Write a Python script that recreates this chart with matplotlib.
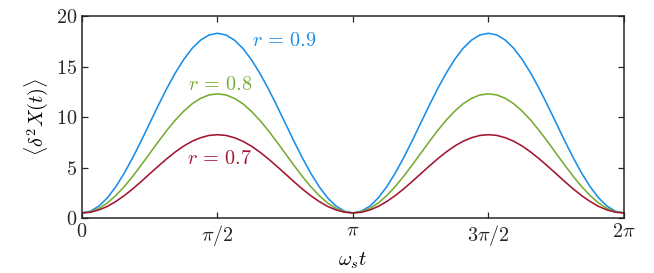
import numpy as np
import matplotlib
matplotlib.use("Agg")
import matplotlib.pyplot as plt

plt.rcParams["font.family"] = "serif"
plt.rcParams["font.serif"] = ["cmr10"]
plt.rcParams["mathtext.fontset"] = "cm"
plt.rcParams["axes.formatter.use_mathtext"] = True

hump_09 = [0.50, 0.67, 1.18, 2.00, 3.11, 4.46, 5.99, 7.66, 9.40, 11.14, 12.81, 14.34, 15.69, 16.80, 17.62, 18.13,
           18.30, 18.13, 17.62, 16.80, 15.69, 14.34, 12.81, 11.14, 9.40, 7.66, 5.99, 4.46, 3.11, 2.00, 1.18, 0.67]
hump_08 = [0.50, 0.61, 0.95, 1.49, 2.23, 3.12, 4.14, 5.25, 6.40, 7.55, 8.66, 9.68, 10.57, 11.31, 11.85, 12.19,
           12.30, 12.19, 11.85, 11.31, 10.57, 9.68, 8.66, 7.55, 6.40, 5.25, 4.14, 3.12, 2.23, 1.49, 0.95, 0.61]
hump_07 = [0.50, 0.57, 0.80, 1.15, 1.64, 2.22, 2.89, 3.62, 4.38, 5.13, 5.86, 6.53, 7.12, 7.60, 7.95, 8.18,
           8.25, 8.18, 7.95, 7.60, 7.12, 6.53, 5.86, 5.13, 4.38, 3.62, 2.89, 2.22, 1.64, 1.15, 0.80, 0.57]
var_09 = hump_09 + hump_09 + [0.50]
var_08 = hump_08 + hump_08 + [0.50]
var_07 = hump_07 + hump_07 + [0.50]
t = np.linspace(0, 2 * np.pi, len(var_09))

series = [("0.9", var_09, "#1a8de6", (1.97, 17.5)),
          ("0.8", var_08, "#77ac30", (1.23, 13.2)),
          ("0.7", var_07, "#a2142f", (1.22, 5.85))]

xticks = [0, np.pi / 2, np.pi, 3 * np.pi / 2, 2 * np.pi]
xlabels = [r"$0$", r"$\pi/2$", r"$\pi$", r"$3\pi/2$", r"$2\pi$"]
yticks = [0, 5, 10, 15, 20]
fs = 14.5

fig = plt.figure(figsize=(6.54, 2.73), dpi=100)
ax = fig.add_axes([0.1254, 0.2015, 0.8286, 0.7395])
for r, v, c, (lx, ly) in series:
    ax.plot(t, v, color=c, lw=1.15)
    ax.text(lx, ly, r"$r\,=\,%s$" % r, color=c, fontsize=fs, va="center", ha="left")

ax.set_xlim(0, 2 * np.pi)
ax.set_ylim(0, 20)
ax.set_xticks(xticks)
ax.set_xticklabels(xlabels)
ax.set_yticks(yticks)
ax.set_yticklabels([r"$%d$" % y for y in yticks])
ax.tick_params(direction="in", top=True, right=True, length=4.5, width=0.9, labelsize=fs, colors="#262626")
for s in ax.spines.values():
    s.set_linewidth(1.1)
    s.set_color("#262626")
ax.set_xlabel(r"$\omega_s t$", fontsize=fs, labelpad=2)
ax.set_ylabel(r"$\langle \delta^2 X(t)\rangle$", fontsize=fs, labelpad=4)

fig.savefig("out.png", dpi=100)
